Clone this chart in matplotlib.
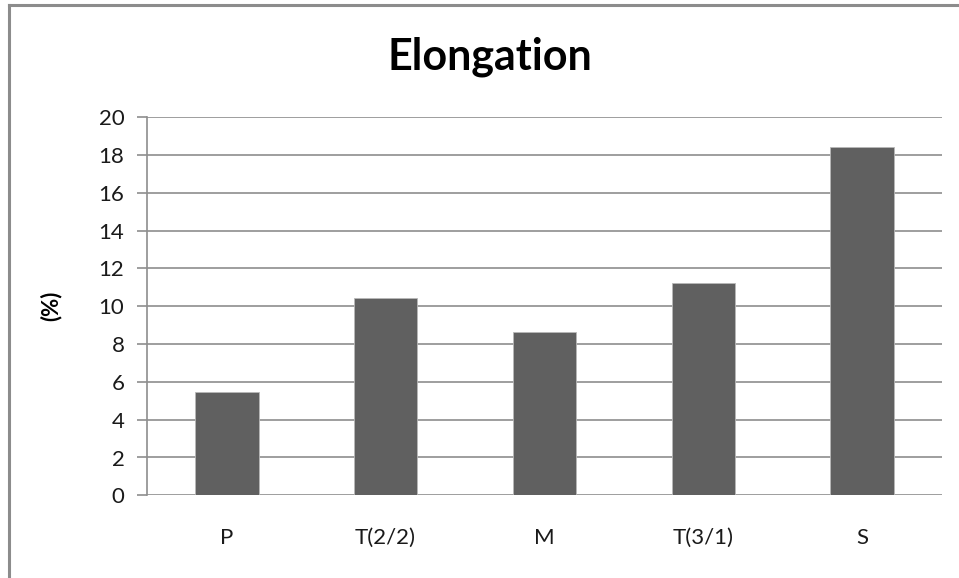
import matplotlib
matplotlib.use("Agg")
import matplotlib.pyplot as plt
from matplotlib.lines import Line2D

categories = ["P", "T(2/2)", "M", "T(3/1)", "S"]
elongation = [5.47, 10.42, 8.66, 11.25, 18.44]
y_ticks = [0, 2, 4, 6, 8, 10, 12, 14, 16, 18, 20]

plt.rcParams["font.family"] = ["Lato", "DejaVu Sans"]

fig = plt.figure(figsize=(9.59, 5.78), dpi=100)
fig.patch.set_facecolor("white")

# chart-area frame (top and left edges)
fig.add_artist(Line2D([9 / 959, 9 / 959], [0, 1 - 5 / 578],
                      transform=fig.transFigure, color="#8c8c8c", lw=2.2))
fig.add_artist(Line2D([9 / 959, 1], [1 - 5 / 578, 1 - 5 / 578],
                      transform=fig.transFigure, color="#8c8c8c", lw=2.2))

ax = fig.add_axes([147.3 / 959, 1 - 495.3 / 578,
                   (941.7 - 147.3) / 959, (495.3 - 117.3) / 578])

x = range(len(categories))
ax.bar(x, elongation, width=0.4, color="#606060", edgecolor="#b8b8b8",
       linewidth=0.6, zorder=3)

ax.set_xlim(-0.5, len(categories) - 0.5)
ax.set_ylim(0, 20)
ax.set_yticks(y_ticks)
ax.set_yticklabels([str(v) for v in y_ticks], fontsize=16)
ax.set_xticks(list(x))
ax.set_xticklabels(categories, fontsize=16)

ax.yaxis.grid(True, color="#8e8e8e", linewidth=1.2, zorder=0)
ax.set_axisbelow(True)
for side in ("top", "right", "bottom"):
    ax.spines[side].set_visible(False)
ax.spines["left"].set_color("#8e8e8e")
ax.spines["left"].set_linewidth(1.2)

ax.tick_params(axis="y", direction="out", length=7, width=1.2,
               color="#8e8e8e", pad=9.5, labelcolor="#1a1a1a")
ax.tick_params(axis="x", length=0, pad=23.5, labelcolor="#1a1a1a")

ax.set_ylabel("(%)", fontsize=16, fontweight="bold")
ax.yaxis.set_label_coords(-(147.3 - 62) / (941.7 - 147.3), (495.3 - 306) / 378)

fig.text(490 / 959, 1 - 57 / 578, "Elongation", ha="center", va="center",
         fontsize=31, fontweight="bold")

fig.savefig("out.png", dpi=100)
